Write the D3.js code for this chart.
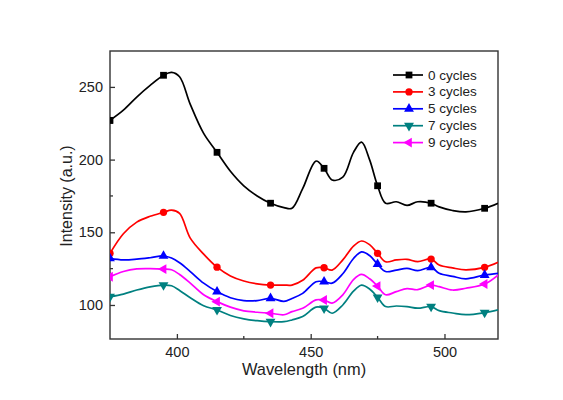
<!DOCTYPE html>
<html>
<head>
<meta charset="utf-8">
<script src="https://cdn.jsdelivr.net/npm/d3@7"></script>
<style>
  html, body { margin: 0; padding: 0; background: #fff; }
  svg { display: block; font-family: "Liberation Sans", Arial, sans-serif; }
</style>
</head>
<body>
<div id="chart"></div>
<script>
const WAVELENGTHS = [375, 380, 385, 390, 395, 398, 401, 405, 410, 415, 420, 425, 430, 435, 440, 443, 447, 452, 455, 458, 462, 466, 469, 472, 475, 478, 482, 486, 490, 495, 498, 503, 508, 515, 520];

const CYCLES_0 = [227, 234, 243, 251, 258, 260, 257, 238, 218, 205, 192, 182, 175, 170, 167, 166.5, 180, 199, 194, 186, 188, 205, 212, 200, 182, 170, 171, 168.5, 171, 170, 167.5, 165, 164, 166.5, 170];
const CYCLES_3 = [135.5, 149, 157, 161, 163.7, 165.2, 163, 146, 135, 126, 120, 116.5, 114.5, 113.7, 113.7, 113.7, 117, 125.5, 125.6, 124, 131, 140.5, 144, 141.5, 135.5, 129.7, 131, 131.4, 129.8, 131.6, 127.5, 125.5, 124.2, 125.9, 129.3];
const CYCLES_5 = [132.1, 131, 131.5, 132.5, 133.7, 132.3, 129, 123, 115, 109.2, 105, 103, 103, 104.6, 102.5, 104.5, 108, 116, 116, 115, 121.5, 132, 136.5, 134, 128, 123, 124, 125.2, 123.6, 125.9, 121.8, 119.7, 118, 120.6, 121.8];
const CYCLES_7 = [105.7, 107.5, 110.3, 112.5, 113.7, 113.2, 110, 105, 99.5, 96.6, 92.8, 90.5, 89.2, 88.5, 88.5, 89.7, 92, 98.5, 97.7, 94.3, 100, 109.5, 113.7, 111, 105.3, 98.9, 99.3, 98.9, 97.8, 98.9, 96.1, 94.5, 93.3, 94.7, 96.6];
const CYCLES_9 = [119.4, 123, 124.8, 125, 124.7, 124.2, 121, 115, 107, 102.3, 98.5, 96, 95, 94.3, 93.3, 95.4, 97.7, 103.5, 103.4, 101.3, 107, 117.5, 121, 118, 113, 107, 109.2, 111.3, 110.5, 113.7, 112.6, 110.3, 111.5, 114.4, 120.6];

const SERIES_NAMES = ['0 cycles', '3 cycles', '5 cycles', '7 cycles', '9 cycles'];
const SERIES_VALUES = [CYCLES_0, CYCLES_3, CYCLES_5, CYCLES_7, CYCLES_9];
const MARKER_WAVELENGTHS = [375, 395, 415, 435, 455, 475, 495, 515];
const X_TICKS = [400, 450, 500];
const Y_TICKS = [100, 150, 200, 250];

const COLORS = ['#000000', '#ff0000', '#0000ff', '#008080', '#ff00ff'];
const SYMBOLS = [
  { type: d3.symbolSquare, size: 46, rot: 0 },
  { type: d3.symbolCircle, size: 42, rot: 0 },
  { type: d3.symbolTriangle, size: 42, rot: 0 },
  { type: d3.symbolTriangle, size: 42, rot: 180 },
  { type: d3.symbolTriangle, size: 42, rot: -90 },
];

const w = 563, h = 400;
const m = { top: 51, right: 65, bottom: 61, left: 110 };
const iw = w - m.left - m.right;
const ih = h - m.top - m.bottom;

const svg = d3.select('#chart').append('svg')
  .attr('width', w).attr('height', h);

const x = d3.scaleLinear().domain([375, 520]).range([0, iw]);
const y = d3.scaleLinear().domain([76.6, 274.7]).range([ih, 0]);

const g = svg.append('g').attr('transform', `translate(${m.left},${m.top})`);

g.append('clipPath').attr('id', 'plot-clip')
  .append('rect').attr('width', iw).attr('height', ih);

// axes, ticks pointing inward
const xAxis = g.append('g').attr('transform', `translate(0,${ih})`)
  .call(d3.axisBottom(x).tickValues(X_TICKS).tickSizeInner(-5).tickSizeOuter(0).tickPadding(8));
const yAxis = g.append('g')
  .call(d3.axisLeft(y).tickValues(Y_TICKS).tickSizeInner(-5).tickSizeOuter(0).tickPadding(7));

[xAxis, yAxis].forEach(a => {
  a.select('.domain').remove();
  a.selectAll('line').attr('stroke', '#333').attr('stroke-width', 1.3);
  a.selectAll('text').attr('font-size', '14.5px').attr('fill', '#222')
    .attr('font-family', '"Liberation Sans", Arial, sans-serif');
});

// minor ticks
g.selectAll('.xminor').data([425, 475]).join('line')
  .attr('x1', d => x(d)).attr('x2', d => x(d))
  .attr('y1', ih).attr('y2', ih - 3)
  .attr('stroke', '#333').attr('stroke-width', 1.3);
g.selectAll('.yminor').data([125, 175, 225]).join('line')
  .attr('x1', 0).attr('x2', 3)
  .attr('y1', d => y(d)).attr('y2', d => y(d))
  .attr('stroke', '#333').attr('stroke-width', 1.3);

// frame
g.append('rect').attr('width', iw).attr('height', ih)
  .attr('fill', 'none').attr('stroke', '#333').attr('stroke-width', 1.4);

const plot = g.append('g').attr('clip-path', 'url(#plot-clip)');

const line = d3.line()
  .x(d => x(d[0]))
  .y(d => y(d[1]))
  .curve(d3.curveCatmullRom.alpha(0.5));

SERIES_VALUES.forEach((vals, i) => {
  const pts = WAVELENGTHS.map((wl, j) => [wl, vals[j]]);
  plot.append('path')
    .datum(pts)
    .attr('fill', 'none')
    .attr('stroke', COLORS[i])
    .attr('stroke-width', 1.7)
    .attr('d', line);

  const sym = d3.symbol().type(SYMBOLS[i].type).size(SYMBOLS[i].size);
  plot.selectAll(`.mk${i}`)
    .data(pts.filter(p => MARKER_WAVELENGTHS.includes(p[0])))
    .join('path')
    .attr('d', sym)
    .attr('transform', d => `translate(${x(d[0])},${y(d[1])}) rotate(${SYMBOLS[i].rot})`)
    .attr('fill', COLORS[i]);
});

// axis titles
svg.append('text')
  .attr('x', m.left + iw / 2).attr('y', 375)
  .attr('text-anchor', 'middle')
  .attr('font-size', '16.4px').attr('fill', '#222')
  .text('Wavelength (nm)');

svg.append('text')
  .attr('transform', `translate(72,${m.top + ih / 2 + 1}) rotate(-90)`)
  .attr('text-anchor', 'middle')
  .attr('font-size', '16px').attr('fill', '#222')
  .text('Intensity (a.u.)');

// legend
const legend = svg.append('g').attr('transform', 'translate(393,75)');
SERIES_NAMES.forEach((name, i) => {
  const row = legend.append('g').attr('transform', `translate(0,${i * 16.9})`);
  row.append('line').attr('x1', 0).attr('x2', 30)
    .attr('stroke', COLORS[i]).attr('stroke-width', 1.7);
  row.append('path')
    .attr('d', d3.symbol().type(SYMBOLS[i].type).size(SYMBOLS[i].size))
    .attr('transform', `translate(16,0) rotate(${SYMBOLS[i].rot})`)
    .attr('fill', COLORS[i]);
  row.append('text').attr('x', 35).attr('y', 0)
    .attr('dominant-baseline', 'central')
    .attr('font-size', '13.5px').attr('fill', '#222')
    .text(name);
});
</script>
</body>
</html>
